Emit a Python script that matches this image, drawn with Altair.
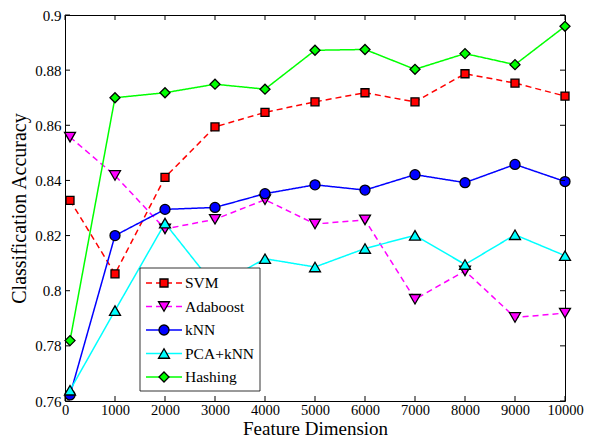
import altair as alt
import pandas as pd

# ---- data ----
dims = [100, 1000, 2000, 3000, 4000, 5000, 6000, 7000, 8000, 9000, 10000]
svm = [0.8328, 0.8061, 0.8411, 0.8594, 0.8647, 0.8685, 0.8718, 0.8685, 0.8787, 0.8753, 0.8706]
adaboost = [0.8557, 0.8418, 0.8224, 0.8259, 0.8330, 0.8242, 0.8257, 0.7969, 0.8072, 0.7903, 0.7919]
knn = [0.7622, 0.8200, 0.8295, 0.8302, 0.8352, 0.8384, 0.8365, 0.8421, 0.8392, 0.8458, 0.8396]
pca_knn = [0.7639, 0.7928, 0.8245, 0.8016, 0.8116, 0.8086, 0.8153, 0.8201, 0.8095, 0.8203, 0.8127]
hashing = [0.7819, 0.8700, 0.8718, 0.8749, 0.8731, 0.8872, 0.8875, 0.8803, 0.8860, 0.8820, 0.8959]

names = ["SVM", "Adaboost", "kNN", "PCA+kNN", "Hashing"]
series_values = [svm, adaboost, knn, pca_knn, hashing]
xticks = [0, 1000, 2000, 3000, 4000, 5000, 6000, 7000, 8000, 9000, 10000]
yticks = [0.76, 0.78, 0.80, 0.82, 0.84, 0.86, 0.88, 0.90]

# ---- styles ----
colors = ["#ff0000", "#ff00ff", "#0000ff", "#00ffff", "#00ff00"]
shapes = ["square", "triangle-down", "circle", "triangle-up", "diamond"]
dashes = [[6, 4], [6, 4], [1, 0], [1, 0], [1, 0]]

W, H = 500, 386
FONT = "Liberation Serif"

rows = []
for name, vals in zip(names, series_values):
    for d, v in zip(dims, vals):
        rows.append({"series": name, "dim": d, "acc": v})
df = pd.DataFrame(rows)
legend_df = pd.DataFrame({"series": names})
xtick_df = pd.DataFrame({"dim": xticks})
ytick_df = pd.DataFrame({"acc": yticks})

xscale = alt.Scale(domain=[0, 10000], nice=False, zero=False)
yscale = alt.Scale(domain=[0.76, 0.90], nice=False, zero=False)

X = alt.X("dim:Q", scale=xscale,
          axis=alt.Axis(values=xticks, title="Feature Dimension", format="d",
                        labelFlush=False, labelOverlap=False, ticks=False, tickSize=0,
                        domain=False, grid=False, labelPadding=2, labelFontSize=14.5,
                        titleY=33, titleBaseline="alphabetic", titleFontSize=19))
Y_axis = alt.Y("acc:Q", scale=yscale,
               axis=alt.Axis(values=yticks, title="Classification Accuracy", format="~g",
                             labelOverlap=False, ticks=False, tickSize=0, domain=False,
                             grid=False, labelPadding=4, titleAngle=270, titleAlign="center",
                             titleBaseline="middle", titleX=-46, titleY=H / 2))
Y_plain = alt.Y("acc:Q", scale=yscale, axis=None)

color_enc = alt.Color("series:N", scale=alt.Scale(domain=names, range=colors), legend=None)
fill_enc = alt.Fill("series:N", scale=alt.Scale(domain=names, range=colors), legend=None)
shape_enc = alt.Shape("series:N", scale=alt.Scale(domain=names, range=shapes), legend=None)
dash_enc = alt.StrokeDash("series:N", scale=alt.Scale(domain=names, range=dashes), legend=None)
size_enc = alt.value(100, condition=[
    {"test": "datum.series === 'SVM'", "value": 64},
    {"test": "datum.series === 'Adaboost' || datum.series === 'PCA+kNN'", "value": 120},
])

lines = alt.Chart(df).mark_line(strokeWidth=1.5).encode(
    x=X, y=Y_axis, color=color_enc, strokeDash=dash_enc)

points = alt.Chart(df).mark_point(filled=True, stroke="black", strokeWidth=1.3, opacity=1).encode(
    x=X, y=Y_plain, fill=fill_enc, shape=shape_enc, size=size_enc)

tick_len = 5
xt_bot = alt.Chart(xtick_df).mark_rule(color="black", strokeWidth=1).encode(
    x=X, y=alt.value(H), y2=alt.value(H - tick_len))
xt_top = alt.Chart(xtick_df).mark_rule(color="black", strokeWidth=1).encode(
    x=X, y=alt.value(0), y2=alt.value(tick_len))
yt_left = alt.Chart(ytick_df).mark_rule(color="black", strokeWidth=1).encode(
    y=Y_plain, x=alt.value(0), x2=alt.value(tick_len))
yt_right = alt.Chart(ytick_df).mark_rule(color="black", strokeWidth=1).encode(
    y=Y_plain, x=alt.value(W), x2=alt.value(W - tick_len))

# ---- legend (drawn inside the plot area) ----
ly = alt.Y("series:N", scale=alt.Scale(type="point", domain=names, range=[268, 362], padding=0),
           axis=None)
legend_box = alt.Chart(pd.DataFrame({"k": [0]})).mark_rect(
    fill="white", stroke="black", strokeWidth=0.8).encode(
    x=alt.value(75), x2=alt.value(195), y=alt.value(253), y2=alt.value(376))
legend_lines = alt.Chart(legend_df).mark_rule(strokeWidth=1.5).encode(
    y=ly, x=alt.value(81), x2=alt.value(117), color=color_enc, strokeDash=dash_enc)
legend_pts = alt.Chart(legend_df).mark_point(filled=True, stroke="black", strokeWidth=1.3,
                                            opacity=1).encode(
    y=ly, x=alt.value(99), fill=fill_enc, shape=shape_enc, size=size_enc)
legend_txt = alt.Chart(legend_df).mark_text(align="left", baseline="middle", font=FONT,
                                           fontSize=15.5, color="black").encode(
    y=ly, x=alt.value(120), text="series:N")

chart = alt.layer(
    lines, points, xt_bot, xt_top, yt_left, yt_right,
    legend_box, legend_lines, legend_pts, legend_txt
).resolve_scale(y="independent").properties(
    width=W, height=H,
    autosize=alt.AutoSizeParams(type="none"),
    padding={"left": 57, "top": 7, "right": 20, "bottom": 37},
    background="white",
).configure_view(stroke="black", strokeWidth=1).configure_axis(
    labelFont=FONT, labelFontSize=15, labelColor="black",
    titleFont=FONT, titleFontSize=20, titleFontWeight="normal", titleColor="black",
)

chart.save("out.html", embed_options={"renderer": "svg", "actions": False})
